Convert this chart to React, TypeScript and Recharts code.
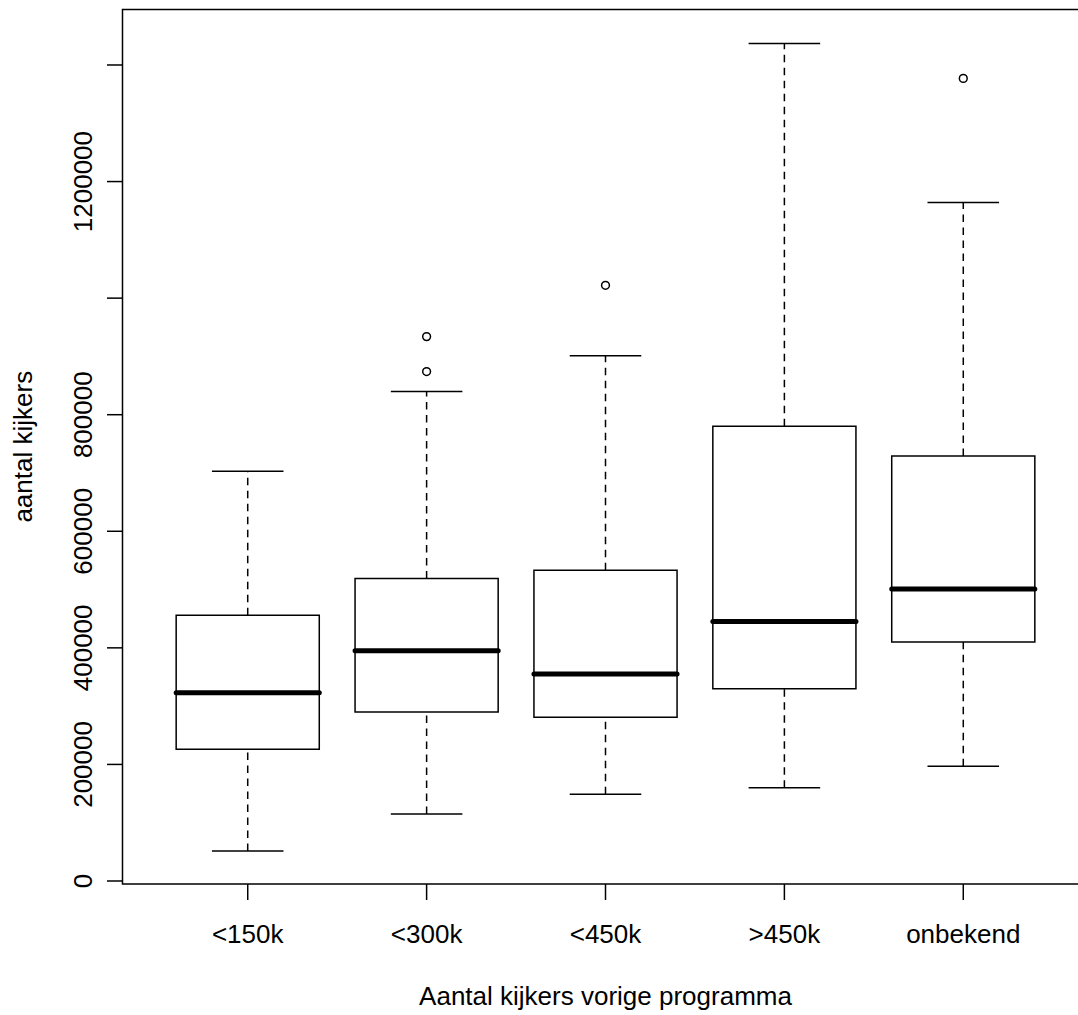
import React from 'react';
import {
  ComposedChart,
  XAxis,
  YAxis,
  Scatter,
  ReferenceArea,
  ReferenceLine,
  Label,
} from 'recharts';

const FONT = '"Liberation Sans", Arial, sans-serif';
const INK = '#000';

// five-number summaries per group of the previous programme's audience
const categories = ['<150k', '<300k', '<450k', '>450k', 'onbekend'];
const lowerWhisker = [51500, 115000, 149000, 160000, 197000];
const firstQuartile = [226000, 290000, 281000, 330000, 410000];
const medians = [323000, 395000, 355000, 445000, 501000];
const thirdQuartile = [456000, 519000, 533000, 780000, 729000];
const upperWhisker = [703000, 840000, 901000, 1437000, 1164000];
const outliers: number[][] = [[], [874000, 934000], [1022000], [], [1377000]];

const yTicks = [0, 200000, 400000, 600000, 800000, 1000000, 1200000, 1400000];
const yTickLabels = ['0', '200000', '400000', '600000', '800000', '', '1200000', ''];
const xTicks = [1, 2, 3, 4, 5];

const xTitle = 'Aantal kijkers vorige programma';
const yTitle = 'aantal kijkers';

const X_DOMAIN: [number, number] = [0.3, 5.7];
const Y_DOMAIN: [number, number] = [-5150, 1495200];
const BOX_HALF = 0.4;
const CAP_HALF = 0.2;

const outlierPoints = outliers.flatMap((vals, i) => vals.map((v) => ({ x: i + 1, y: v })));

function RotatedTick(props: any) {
  const { x, y, payload } = props;
  const label = yTickLabels[yTicks.indexOf(payload.value)] ?? '';
  return (
    <text
      x={x}
      y={y}
      transform={`rotate(-90 ${x} ${y})`}
      textAnchor="middle"
      fontSize={26}
      fontFamily={FONT}
      fill={INK}
    >
      {label}
    </text>
  );
}

function OpenCircle(props: any) {
  const { cx, cy } = props;
  if (cx == null || cy == null) return null;
  return <circle cx={cx} cy={cy} r={3.9} fill="none" stroke={INK} strokeWidth={1.5} />;
}

export default function App() {
  return (
    <div
      style={{
        position: 'absolute',
        left: 0,
        top: 0,
        width: 1078,
        height: 1015,
        overflow: 'hidden',
        background: '#fff',
      }}
    >
      <ComposedChart width={1100} height={1015} margin={{ top: 9.5, right: 11.5, bottom: 0, left: 0 }}>
        <XAxis
          type="number"
          dataKey="x"
          domain={X_DOMAIN}
          allowDataOverflow
          ticks={xTicks}
          interval={0}
          tickFormatter={(v: number) => categories[v - 1] ?? ''}
          height={131}
          axisLine={false}
          tickSize={16}
          tickMargin={24.5}
          tickLine={{ stroke: INK, strokeWidth: 1.5 }}
          tick={{ fontSize: 26, fontFamily: FONT, fill: INK }}
        >
          <Label
            content={(p: any) => {
              const vb = p.viewBox ?? { x: 122.5, y: 884, width: 966, height: 131 };
              return (
                <text
                  x={vb.x + vb.width / 2}
                  y={vb.y + 121}
                  textAnchor="middle"
                  fontSize={26}
                  fontFamily={FONT}
                  fill={INK}
                >
                  {xTitle}
                </text>
              );
            }}
          />
        </XAxis>
        <YAxis
          type="number"
          dataKey="y"
          domain={Y_DOMAIN}
          allowDataOverflow
          ticks={yTicks}
          interval={0}
          width={122.5}
          axisLine={false}
          tickSize={15.5}
          tickMargin={14.5}
          tickLine={{ stroke: INK, strokeWidth: 1.5 }}
          tick={<RotatedTick />}
        >
          <Label
            content={(p: any) => {
              const vb = p.viewBox ?? { x: 0, y: 9.5, width: 122.5, height: 874.5 };
              const tx = vb.x + 31.7;
              const ty = vb.y + vb.height / 2;
              return (
                <text
                  x={tx}
                  y={ty}
                  transform={`rotate(-90 ${tx} ${ty})`}
                  textAnchor="middle"
                  fontSize={26}
                  fontFamily={FONT}
                  fill={INK}
                >
                  {yTitle}
                </text>
              );
            }}
          />
        </YAxis>

        {/* plot frame */}
        <ReferenceArea
          x1={X_DOMAIN[0]}
          x2={X_DOMAIN[1]}
          y1={Y_DOMAIN[0]}
          y2={Y_DOMAIN[1]}
          fill="none"
          stroke={INK}
          strokeWidth={1.5}
          ifOverflow="visible"
        />

        {/* whiskers and caps */}
        {categories.map((c, i) => (
          <ReferenceLine
            key={`wl-${c}`}
            segment={[
              { x: i + 1, y: lowerWhisker[i] },
              { x: i + 1, y: firstQuartile[i] },
            ]}
            stroke={INK}
            strokeWidth={1.5}
            strokeDasharray="7.5 5.5"
          />
        ))}
        {categories.map((c, i) => (
          <ReferenceLine
            key={`wu-${c}`}
            segment={[
              { x: i + 1, y: thirdQuartile[i] },
              { x: i + 1, y: upperWhisker[i] },
            ]}
            stroke={INK}
            strokeWidth={1.5}
            strokeDasharray="7.5 5.5"
          />
        ))}
        {categories.map((c, i) => (
          <ReferenceLine
            key={`cl-${c}`}
            segment={[
              { x: i + 1 - CAP_HALF, y: lowerWhisker[i] },
              { x: i + 1 + CAP_HALF, y: lowerWhisker[i] },
            ]}
            stroke={INK}
            strokeWidth={1.5}
          />
        ))}
        {categories.map((c, i) => (
          <ReferenceLine
            key={`cu-${c}`}
            segment={[
              { x: i + 1 - CAP_HALF, y: upperWhisker[i] },
              { x: i + 1 + CAP_HALF, y: upperWhisker[i] },
            ]}
            stroke={INK}
            strokeWidth={1.5}
          />
        ))}

        {/* boxes */}
        {categories.map((c, i) => (
          <ReferenceArea
            key={`box-${c}`}
            x1={i + 1 - BOX_HALF}
            x2={i + 1 + BOX_HALF}
            y1={firstQuartile[i]}
            y2={thirdQuartile[i]}
            fill="#fff"
            fillOpacity={1}
            stroke={INK}
            strokeWidth={1.5}
          />
        ))}

        {/* medians */}
        {categories.map((c, i) => (
          <ReferenceLine
            key={`med-${c}`}
            segment={[
              { x: i + 1 - BOX_HALF, y: medians[i] },
              { x: i + 1 + BOX_HALF, y: medians[i] },
            ]}
            stroke={INK}
            strokeWidth={5}
            strokeLinecap="round"
          />
        ))}

        <Scatter data={outlierPoints} dataKey="y" shape={<OpenCircle />} isAnimationActive={false} />
      </ComposedChart>
    </div>
  );
}
